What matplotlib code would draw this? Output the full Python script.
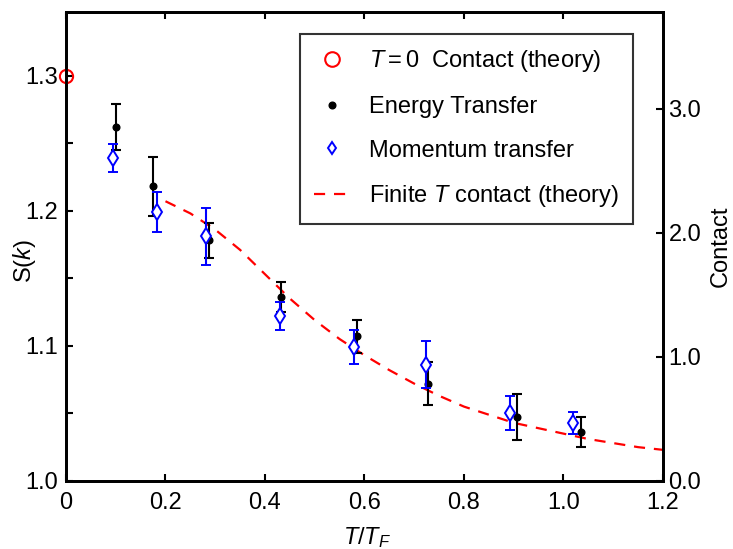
import matplotlib
matplotlib.use("Agg")
import matplotlib.pyplot as plt
from matplotlib.ticker import MultipleLocator, FixedLocator, FormatStrFormatter

plt.rcParams['font.family'] = ['Liberation Sans', 'DejaVu Sans']
plt.rcParams['mathtext.fontset'] = 'custom'
plt.rcParams['mathtext.rm'] = 'Liberation Sans'
plt.rcParams['mathtext.it'] = 'Liberation Sans:italic'

# T = 0 contact theory point
t0_x = [0.0]
t0_s = [1.30]

# Energy transfer (black dots)
energy_t = [0.100, 0.174, 0.288, 0.432, 0.584, 0.728, 0.906, 1.036]
energy_s = [1.262, 1.218, 1.178, 1.136, 1.107, 1.072, 1.047, 1.036]
energy_err = [0.017, 0.022, 0.013, 0.011, 0.012, 0.016, 0.017, 0.011]

# Momentum transfer (blue diamonds)
mom_t = [0.094, 0.182, 0.282, 0.430, 0.578, 0.724, 0.892, 1.020]
mom_s = [1.239, 1.199, 1.181, 1.122, 1.099, 1.086, 1.050, 1.043]
mom_err = [0.0105, 0.015, 0.021, 0.0105, 0.0125, 0.0175, 0.0125, 0.008]

# Finite T contact theory curve
curve_t = [0.20, 0.25, 0.30, 0.35, 0.40, 0.45, 0.50, 0.55, 0.60, 0.65, 0.70,
           0.75, 0.80, 0.85, 0.90, 0.95, 1.00, 1.05, 1.10, 1.15, 1.20]
curve_s = [1.207, 1.198, 1.186, 1.171, 1.153, 1.135, 1.119, 1.105, 1.093, 1.082,
           1.072, 1.063, 1.055, 1.049, 1.043, 1.039, 1.035, 1.031, 1.028, 1.025, 1.023]

fs = 17

fig = plt.figure(figsize=(7.33, 5.49), dpi=100)
ax = fig.add_axes([0.090, 0.124, 0.8145, 0.854])

ax.plot(curve_t, curve_s, color='red', lw=1.6, dashes=(5, 4), zorder=2)
ax.errorbar(energy_t, energy_s, yerr=energy_err, fmt='o', color='black',
            ms=4.8, elinewidth=1.5, capsize=3.5, capthick=1.5, zorder=3)
ax.errorbar(mom_t, mom_s, yerr=mom_err, fmt='d', color='blue', mfc='white',
            mec='blue', mew=1.4, ms=8, elinewidth=1.5, capsize=3.5, capthick=1.5, zorder=4)
ax.plot(t0_x, t0_s, 'o', mfc='none', mec='red', mew=1.5, ms=9.5, clip_on=False, zorder=5)

ax.set_xlim(0, 1.2)
ax.set_ylim(1.0, 1.347)
ax.xaxis.set_major_locator(MultipleLocator(0.2))
ax.xaxis.set_major_formatter(plt.FuncFormatter(lambda v, p: '0' if abs(v) < 1e-9 else '%.1f' % v))
ax.yaxis.set_major_locator(FixedLocator([1.0, 1.1, 1.2, 1.3]))
ax.yaxis.set_minor_locator(FixedLocator([1.05, 1.15, 1.25]))
ax.yaxis.set_major_formatter(FormatStrFormatter('%.1f'))
ax.tick_params(axis='both', which='both', direction='in', labelsize=fs,
               width=1.5, length=5, top=True, right=False, pad=6)
ax.tick_params(axis='x', pad=8)
for sp in ax.spines.values():
    sp.set_linewidth(2)

ax.set_xlabel('$T/T_F$', fontsize=fs)
ax.xaxis.set_label_coords(0.504, -0.094)
ax.set_ylabel('S($k$)', fontsize=fs)
ax.yaxis.set_label_coords(-0.047, 0.47)

ax2 = ax.twinx()
ax2.set_ylim(0, 3.78)
ax2.yaxis.set_major_locator(FixedLocator([0, 1, 2, 3]))
ax2.yaxis.set_major_formatter(FormatStrFormatter('%.1f'))
ax2.tick_params(axis='y', direction='in', labelsize=fs, width=1.5, length=5, pad=4)
for sp in ax2.spines.values():
    sp.set_linewidth(2)
ax2.set_ylabel('Contact', fontsize=fs, labelpad=6)

h1 = plt.Line2D([], [], ls='none', marker='o', mfc='none', mec='red', mew=1.5, ms=10.5)
h2 = plt.Line2D([], [], ls='none', marker='o', color='black', ms=4.8)
h3 = plt.Line2D([], [], ls='none', marker='d', mfc='white', mec='blue', mew=1.4, ms=6)
h4 = plt.Line2D([], [], color='red', lw=1.6, dashes=(5, 4))
leg = ax.legend([h1, h2, h3, h4],
                ['$T = 0$  Contact (theory)', 'Energy Transfer',
                 'Momentum transfer', 'Finite $T$ contact (theory)'],
                loc='upper right', bbox_to_anchor=(0.9497, 0.953), borderaxespad=0,
                fontsize=fs, frameon=True, fancybox=False, handlelength=1.5,
                labelspacing=0.92, borderpad=0.6, handletextpad=0.8)
leg.get_frame().set_edgecolor('black')
leg.get_frame().set_linewidth(1.5)

fig.savefig('out.png', dpi=100)
